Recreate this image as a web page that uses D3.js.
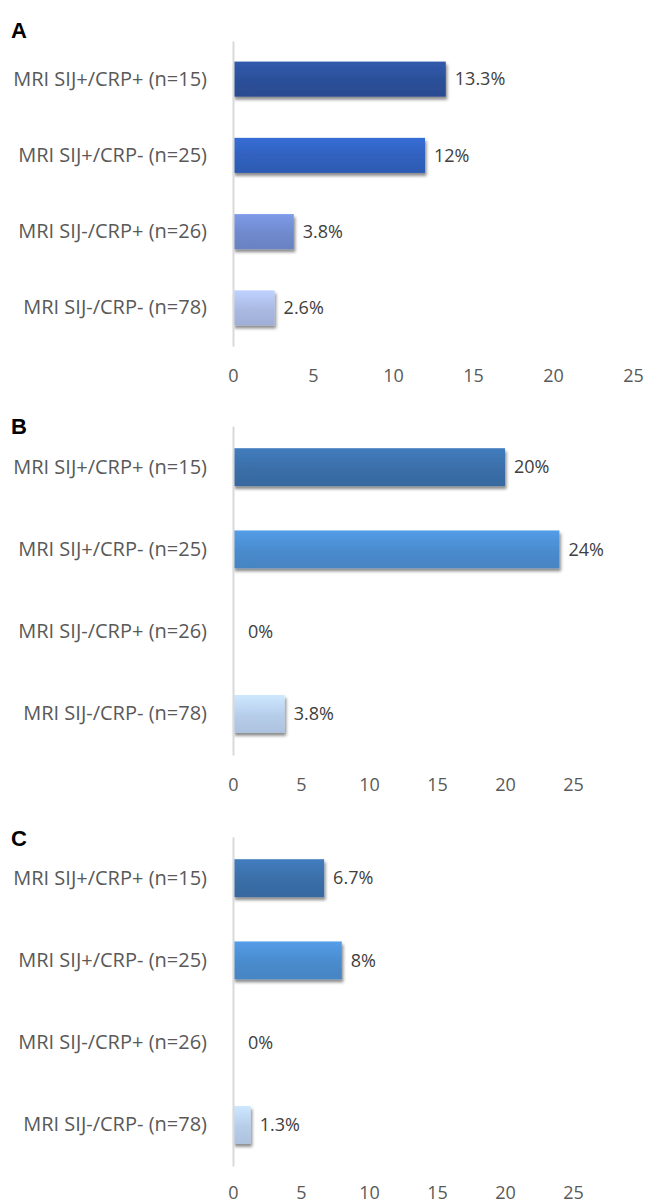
<!DOCTYPE html>
<html>
<head>
<meta charset="utf-8">
<script src="https://cdn.jsdelivr.net/npm/d3@7/dist/d3.min.js"></script>
<style>
  body { margin: 0; background: #fff; }
  svg { display: block; }
</style>
</head>
<body>
<div id="chart"></div>
<script>
const categories = [
  'MRI SIJ+/CRP+ (n=15)',
  'MRI SIJ+/CRP- (n=25)',
  'MRI SIJ-/CRP+ (n=26)',
  'MRI SIJ-/CRP- (n=78)',
];
const valuesA = [13.3, 12, 3.8, 2.6];
const valuesB = [20, 24, 0, 3.8];
const valuesC = [6.7, 8, 0, 1.3];
const xTicks = [0, 5, 10, 15, 20, 25];
const panelLetters = ['A', 'B', 'C'];

const W = 649;
const H = 1203;
const FONT = '"Open Sans", Lato, sans-serif';

// layout of each panel (pixels)
const panels = [
  { letter: panelLetters[0], values: valuesA, letterY: 38, y0: 41, y1: 346, x1: 633, tickY: 376,
    colors: ['#2b4f98', '#3060bd', '#6f89cd', '#a9b9e2'] },
  { letter: panelLetters[1], values: valuesB, letterY: 434, y0: 426, y1: 755, x1: 573, tickY: 785,
    colors: ['#3a6ea8', '#4a8bcd', '#86aee0', '#b6cdea'] },
  { letter: panelLetters[2], values: valuesC, letterY: 846, y0: 837, y1: 1166, x1: 573, tickY: 1193,
    colors: ['#3a6ea8', '#4a8bcd', '#86aee0', '#b6cdea'] },
];
const x0 = 233;

const svg = d3.select('#chart')
  .append('svg')
  .attr('width', W)
  .attr('height', H);

const defs = svg.append('defs');
const shadow = defs.append('filter')
  .attr('id', 'shadow')
  .attr('x', '-10%').attr('y', '-20%')
  .attr('width', '130%').attr('height', '160%');
shadow.append('feDropShadow')
  .attr('dx', 1.5)
  .attr('dy', 3)
  .attr('stdDeviation', 1.6)
  .attr('flood-color', '#000')
  .attr('flood-opacity', 0.45);

panels.forEach((p, pi) => {
  const g = svg.append('g').attr('class', `panel-${p.letter}`);

  const x = d3.scaleLinear().domain([0, 25]).range([x0, p.x1]);
  const y = d3.scaleBand()
    .domain(categories)
    .range([p.y0, p.y1])
    .paddingInner(0.54)
    .paddingOuter(0.27);

  // gradients for bars
  p.colors.forEach((c, i) => {
    const grad = defs.append('linearGradient')
      .attr('id', `grad-${pi}-${i}`)
      .attr('x1', 0).attr('y1', 0).attr('x2', 0).attr('y2', 1);
    grad.append('stop').attr('offset', '0%').attr('stop-color', d3.color(c).brighter(0.35));
    grad.append('stop').attr('offset', '55%').attr('stop-color', c);
    grad.append('stop').attr('offset', '100%').attr('stop-color', d3.color(c).darker(0.15));
  });

  // panel letter
  g.append('text')
    .attr('x', 11)
    .attr('y', p.letterY)
    .style('font-family', '"Liberation Sans", Arial, sans-serif')
    .style('font-weight', 'bold')
    .style('font-size', '22px')
    .style('fill', '#000')
    .text(p.letter);

  const rows = p.values.map((v, i) => ({ cat: categories[i], v, i }));

  // bars
  g.selectAll('.bar')
    .data(rows.filter((d) => d.v > 0))
    .enter()
    .append('rect')
    .attr('class', 'bar')
    .attr('x', x(0))
    .attr('y', (d) => y(d.cat))
    .attr('width', (d) => x(d.v) - x(0))
    .attr('height', y.bandwidth())
    .attr('fill', (d) => `url(#grad-${pi}-${d.i})`)
    .attr('filter', 'url(#shadow)');

  // category axis (vertical line + labels)
  const yAxis = g.append('g')
    .attr('transform', `translate(${x0},0)`)
    .call(d3.axisLeft(y).tickSize(0).tickPadding(26));
  yAxis.select('.domain')
    .attr('stroke', '#d9d9d9')
    .attr('stroke-width', 2);
  yAxis.selectAll('text')
    .style('font-family', FONT)
    .style('font-size', '20px')
    .style('fill', '#595959');

  // value labels
  g.selectAll('.val')
    .data(rows)
    .enter()
    .append('text')
    .attr('class', 'val')
    .attr('x', (d) => x(d.v) + (d.v > 0 ? 9 : 15))
    .attr('y', (d) => y(d.cat) + y.bandwidth() / 2)
    .attr('dy', '0.35em')
    .style('font-family', FONT)
    .style('font-size', '18px')
    .style('fill', '#404040')
    .text((d) => `${d.v}%`);

  // x axis tick labels
  const xAxis = g.append('g')
    .attr('transform', `translate(0,${p.tickY})`)
    .call(d3.axisBottom(x).tickValues(xTicks).tickSize(0).tickPadding(0));
  xAxis.select('.domain').remove();
  xAxis.selectAll('text')
    .attr('y', 0)
    .attr('dy', '0.35em')
    .style('font-family', FONT)
    .style('font-size', '18px')
    .style('fill', '#595959');
});
</script>
</body>
</html>
